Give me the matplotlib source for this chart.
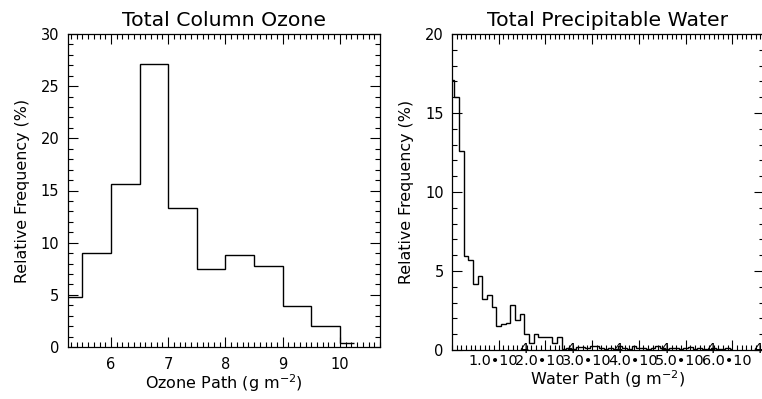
import numpy as np
import matplotlib
matplotlib.use("Agg")
import matplotlib.pyplot as plt
from matplotlib.ticker import MultipleLocator, NullFormatter, FixedLocator

# ---------------- data ----------------
ozone_centers = [5.25, 5.75, 6.25, 6.75, 7.25, 7.75, 8.25, 8.75, 9.25, 9.75, 10.25]
ozone_freq = [4.75, 9.0, 15.6, 27.1, 13.3, 7.45, 8.8, 7.8, 3.9, 2.05, 0.4]

water_bin_width = 1000.0
water_freq = [
    17.1, 16.0, 12.6, 5.95, 5.7, 4.2, 4.7, 3.2, 3.45, 2.75,
    1.53, 1.64, 1.74, 2.87, 1.9, 2.25, 1.0, 0.47, 1.0, 0.8,
    0.8, 0.8, 0.47, 0.8, 0.05, 0.1, 0.05, 0.2, 0.2, 0.1,
    0.25, 0.25, 0.1, 0.05, 0.1, 0.05, 0.25, 0.1, 0.05, 0.25,
    0.15, 0.15, 0.05, 0.1, 0.25, 0.1, 0.05, 0.15, 0.1, 0.05,
    0.15, 0.2, 0.05, 0.1, 0.05, 0.0, 0.1, 0.05, 0.05, 0.1,
    0.05,
]
water_centers = [i * water_bin_width for i in range(len(water_freq))]

water_tick_vals = [1e4, 2e4, 3e4, 4e4, 5e4, 6e4]
water_tick_mant = ["1.0", "2.0", "3.0", "4.0", "5.0", "6.0"]
water_tick_exp = "4"

titles = ["Total Column Ozone", "Total Precipitable Water"]
ylab = "Relative Frequency (%)"
xlabs = [r"Ozone Path (g m$^{-2}$)", r"Water Path (g m$^{-2}$)"]


def edges_from_centers(c):
    c = np.asarray(c, float)
    mids = (c[:-1] + c[1:]) / 2.0
    return np.concatenate([[c[0]], mids, [c[-1]]])


W, H = 762, 399
fig = plt.figure(figsize=(W / 100, H / 100), dpi=100)


def px_axes(l, t, r, b):
    return fig.add_axes([l / W, 1 - b / H, (r - l) / W, (b - t) / H])


ax1 = px_axes(67.7, 34, 380, 347)
ax2 = px_axes(452, 34, 764, 350)

for ax in (ax1, ax2):
    for s in ax.spines.values():
        s.set_linewidth(0.9)
        s.set_color("black")
    ax.tick_params(which="both", direction="in", top=True, right=True,
                   color="black", width=0.8)
    ax.tick_params(which="major", length=7, labelsize=10.5, pad=6)
    ax.tick_params(which="minor", length=3.5)

# ---- left: ozone ----
ax1.stairs(ozone_freq, edges_from_centers(ozone_centers), baseline=None,
           color="black", lw=1.0)
ax1.set_xlim(5.244, 10.70)
ax1.set_ylim(0, 30)
ax1.xaxis.set_major_locator(FixedLocator([6, 7, 8, 9, 10]))
ax1.xaxis.set_minor_locator(MultipleLocator(0.1))
ax1.yaxis.set_major_locator(MultipleLocator(5))
ax1.yaxis.set_minor_locator(MultipleLocator(1))
ax1.tick_params(axis="x", which="major", pad=7, labelsize=10.5)
ax1.set_title(titles[0], fontsize=14.7, pad=6)
ax1.set_ylabel(ylab, fontsize=11.4, labelpad=8)
ax1.set_xlabel(xlabs[0], fontsize=11.5, va="top")
ax1.xaxis.set_label_coords(0.5, -(372 - 347) / 313)

# ---- right: water ----
ax2.stairs(water_freq, edges_from_centers(water_centers), baseline=None,
           color="black", lw=1.0)
ax2.set_xlim(0, 6.68e4)
ax2.set_ylim(0, 20)
ax2.xaxis.set_major_locator(FixedLocator(water_tick_vals))
ax2.xaxis.set_minor_locator(MultipleLocator(water_bin_width))
ax2.xaxis.set_major_formatter(NullFormatter())
ax2.yaxis.set_major_locator(MultipleLocator(5))
ax2.yaxis.set_minor_locator(MultipleLocator(1))
ax2.set_title(titles[1], fontsize=14.7, pad=6)
ax2.set_ylabel(ylab, fontsize=11.4, labelpad=8)
ax2.set_xlabel(xlabs[1], fontsize=11.5, va="top")
ax2.xaxis.set_label_coords(0.5, -(368 - 350) / 316)

for v, m in zip(water_tick_vals, water_tick_mant):
    ax2.annotate(m + "\u202210", xy=(v, 0), xycoords=("data", "axes fraction"),
                 xytext=(19.5, -15), textcoords="offset pixels",
                 ha="right", va="baseline", fontsize=10.4, annotation_clip=False)
    ax2.annotate(water_tick_exp, xy=(v, 0), xycoords=("data", "axes fraction"),
                 xytext=(21, -3), textcoords="offset pixels",
                 ha="left", va="baseline", fontsize=10.4, annotation_clip=False)

fig.savefig("out.png", dpi=100)
